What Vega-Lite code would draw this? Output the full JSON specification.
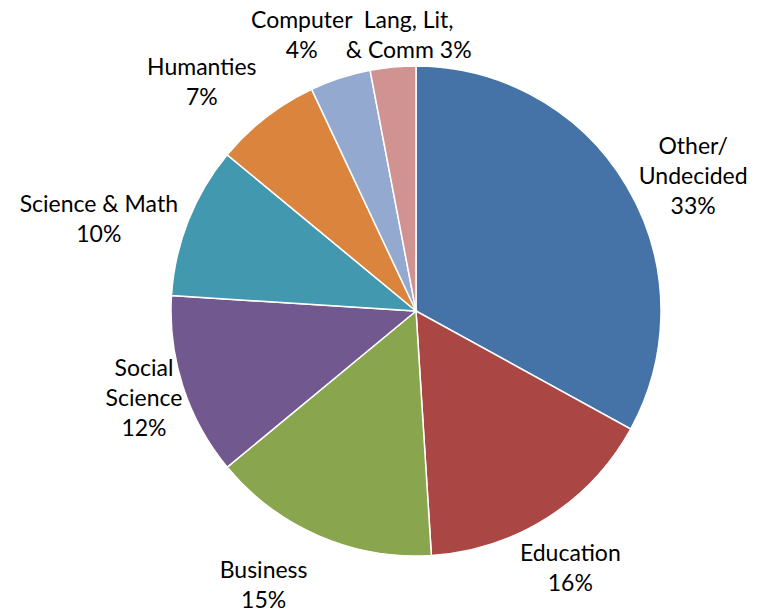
{
  "$schema": "https://vega.github.io/schema/vega-lite/v6.json",
  "autosize": "none",
  "width": 706,
  "height": 612,
  "padding": {"left": 63, "top": 5, "right": 0, "bottom": 0},
  "background": "white",
  "config": {"view": {"stroke": null}, "text": {"font": "Lato", "fontSize": 23, "lineHeight": 30, "lineBreak": "\n", "align": "center", "baseline": "middle", "color": "black"}},
  "data": {
    "values": [
      {"category": "Other/Undecided", "label": "Other/\nUndecided\n33%", "pct": 33, "order": 1, "group": "right"},
      {"category": "Education", "label": "Education\n16%", "pct": 16, "order": 2, "group": "lowerright"},
      {"category": "Business", "label": "Business\n15%", "pct": 15, "order": 3, "group": "bottom"},
      {"category": "Social Science", "label": "Social\nScience\n12%", "pct": 12, "order": 4, "group": "left"},
      {"category": "Science & Math", "label": "Science & Math\n10%", "pct": 10, "order": 5, "group": "upperleft"},
      {"category": "Humanties", "label": "Humanties\n7%", "pct": 7, "order": 6, "group": "upperleft"},
      {"category": "Computer", "label": "Computer\n4%", "pct": 4, "order": 7, "group": "topleft"},
      {"category": "Lang, Lit, & Comm", "label": "Lang, Lit,\n& Comm  3%", "pct": 3, "order": 8, "group": "topright"}
    ]
  },
  "encoding": {
    "theta": {"field": "pct", "type": "quantitative", "stack": true},
    "order": {"field": "order", "type": "quantitative"}
  },
  "layer": [
    {
      "mark": {"type": "arc", "outerRadius": 245, "stroke": "white", "strokeWidth": 1.5},
      "encoding": {
        "color": {
          "field": "category",
          "type": "nominal",
          "legend": null,
          "scale": {
            "domain": ["Other/Undecided", "Education", "Business", "Social Science", "Science & Math", "Humanties", "Computer", "Lang, Lit, & Comm"],
            "range": ["#4572A7", "#AA4643", "#89A54E", "#71588F", "#4198AF", "#DB843D", "#93A9CF", "#D19392"]
          }
        }
      }
    },
    {
      "mark": {"type": "text", "radius": 322},
      "encoding": {"text": {"condition": {"test": "datum.group === 'right'", "field": "label"}, "value": ""}}
    },
    {
      "mark": {"type": "text", "radius": 325, "dy": 14, "dx": -15},
      "encoding": {"text": {"condition": {"test": "datum.group === 'upperleft'", "field": "label"}, "value": ""}}
    },
    {
      "mark": {"type": "text", "radius": 288},
      "encoding": {"text": {"condition": {"test": "datum.group === 'lowerright'", "field": "label"}, "value": ""}}
    },
    {
      "mark": {"type": "text", "radius": 283, "dx": -40},
      "encoding": {"text": {"condition": {"test": "datum.group === 'bottom'", "field": "label"}, "value": ""}}
    },
    {
      "mark": {"type": "text", "radius": 286, "dy": -30},
      "encoding": {"text": {"condition": {"test": "datum.group === 'left'", "field": "label"}, "value": ""}}
    },
    {
      "mark": {"type": "text", "radius": 305, "dx": -20},
      "encoding": {"text": {"condition": {"test": "datum.group === 'topleft'", "field": "label"}, "value": ""}}
    },
    {
      "mark": {"type": "text", "radius": 291, "dx": 20},
      "encoding": {"text": {"condition": {"test": "datum.group === 'topright'", "field": "label"}, "value": ""}}
    }
  ]
}
